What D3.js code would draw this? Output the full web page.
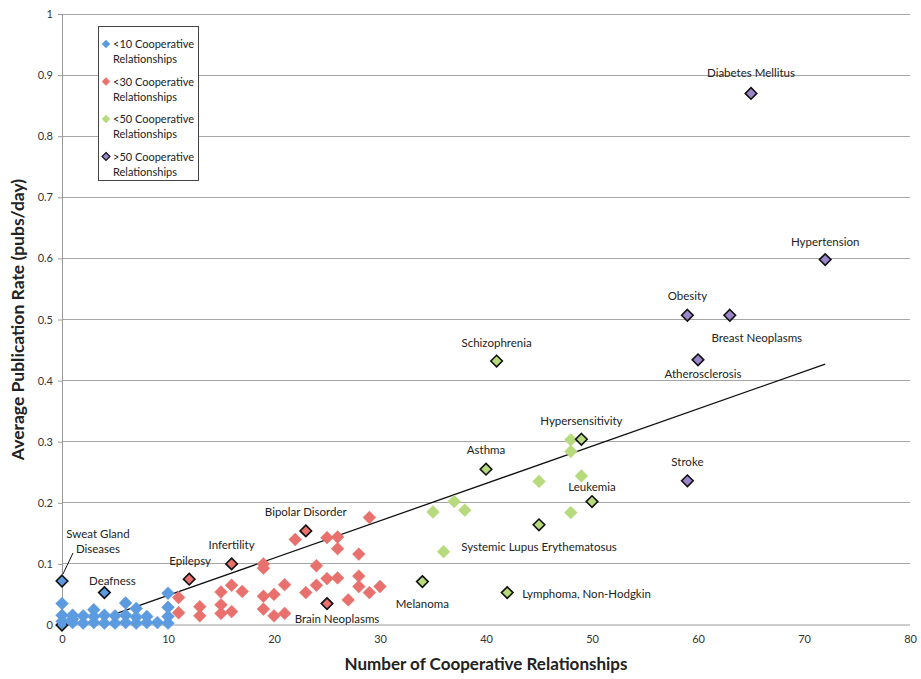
<!DOCTYPE html>
<html>
<head>
<meta charset="utf-8">
<script src="https://cdn.jsdelivr.net/npm/d3@7"></script>
<style>
  html, body { margin: 0; padding: 0; background: #fff; }
  svg { display: block; font-family: Lato, "Open Sans", sans-serif; }
</style>
</head>
<body>
<svg id="chart" width="921" height="679"></svg>
<script>
// ---------------- DATA ----------------
const xTicks = [0, 10, 20, 30, 40, 50, 60, 70, 80];
const yTicks = [0, 0.1, 0.2, 0.3, 0.4, 0.5, 0.6, 0.7, 0.8, 0.9, 1];
const yTickLabels = ["0", "0.1", "0.2", "0.3", "0.4", "0.5", "0.6", "0.7", "0.8", "0.9", "1"];

const seriesNames = ["<10 Cooperative Relationships", "<30 Cooperative Relationships",
                     "<50 Cooperative Relationships", ">50 Cooperative Relationships"];

// <10 series (null label = plain marker, "" = outlined without label)
const blueX = [0, 0, 0, 0, 0, 1, 1, 1, 2, 2, 3, 3, 3, 4, 4, 4, 5, 5, 6, 6, 6, 7, 7, 7, 8, 8, 9, 10, 10, 10, 10];
const blueY = [0.072, 0.035, 0.016, 0.006, 0.0, 0.016, 0.004, 0.010, 0.015, 0.003, 0.025, 0.014, 0.004,
               0.053, 0.016, 0.003, 0.015, 0.003, 0.036, 0.016, 0.004, 0.027, 0.013, 0.003, 0.014, 0.004,
               0.004, 0.052, 0.029, 0.014, 0.003];
const blueLabel = ["Sweat Gland|Diseases", null, null, null, "", null, null, null, null, null, null, null, null,
                   "Deafness", null, null, null, null, null, null, null, null, null, null, null, null,
                   null, null, null, null, null];

// <30 series
const redX = [12, 16, 23, 25, 11, 11, 13, 13, 15, 15, 15, 16, 16, 17, 19, 19, 19, 19, 20, 20, 21, 21,
              22, 23, 24, 24, 25, 25, 26, 26, 26, 27, 28, 28, 28, 29, 29, 30];
const redY = [0.075, 0.100, 0.154, 0.035, 0.045, 0.020, 0.030, 0.015, 0.054, 0.033, 0.019, 0.065, 0.022,
              0.055, 0.100, 0.093, 0.047, 0.026, 0.050, 0.015, 0.066, 0.019, 0.140, 0.053, 0.097, 0.065,
              0.143, 0.076, 0.144, 0.125, 0.077, 0.041, 0.116, 0.080, 0.063, 0.176, 0.053, 0.063];
const redLabel = ["Epilepsy", "Infertility", "Bipolar Disorder", "Brain Neoplasms"];

// <50 series
const greenX = [41, 40, 49, 50, 45, 34, 42, 48, 48, 45, 49, 37, 35, 38, 48, 36];
const greenY = [0.432, 0.255, 0.304, 0.202, 0.164, 0.071, 0.053, 0.303, 0.284, 0.235, 0.244, 0.202,
                0.185, 0.188, 0.184, 0.120];
const greenLabel = ["Schizophrenia", "Asthma", "Hypersensitivity", "Leukemia", "Systemic Lupus Erythematosus",
                    "Melanoma", "Lymphoma, Non-Hodgkin"];

// >50 series
const purpleX = [65, 72, 59, 63, 60, 59];
const purpleY = [0.870, 0.598, 0.507, 0.507, 0.434, 0.236];
const purpleLabel = ["Diabetes Mellitus", "Hypertension", "Obesity", "Breast Neoplasms", "Atherosclerosis", "Stroke"];

// linear trend line (end points)
const trendX = [4.7, 72];
const trendY = [0.016, 0.427];

// ---------------- LAYOUT / STYLE ----------------
const colors = ["#5c9be0", "#e8716d", "#b6da7c", "#9a86c8"];
const labelOffsets = {
  "Sweat Gland|Diseases": [36, -47, "middle"],
  "Deafness": [8, -12, "middle"],
  "Epilepsy": [1, -18, "middle"],
  "Infertility": [0, -19, "middle"],
  "Bipolar Disorder": [0, -19, "middle"],
  "Brain Neoplasms": [10, 15, "middle"],
  "Melanoma": [0, 22, "middle"],
  "Lymphoma, Non-Hodgkin": [15, 1, "start"],
  "Systemic Lupus Erythematosus": [0, 22, "middle"],
  "Asthma": [0, -19, "middle"],
  "Hypersensitivity": [0, -18, "middle"],
  "Leukemia": [0, -15, "middle"],
  "Schizophrenia": [0, -18, "middle"],
  "Stroke": [0, -19, "middle"],
  "Atherosclerosis": [5, 14, "middle"],
  "Breast Neoplasms": [27, 23, "middle"],
  "Obesity": [0, -19, "middle"],
  "Hypertension": [0, -18, "middle"],
  "Diabetes Mellitus": [0, -20, "middle"]
};

const svg = d3.select("#chart");
const x = d3.scaleLinear().domain([0, 80]).range([62, 910]);
const y = d3.scaleLinear().domain([0, 1]).range([625, 14]);

// gridlines
svg.append("g").selectAll("line").data(yTicks.filter(d => d > 0)).join("line")
  .attr("x1", x(0)).attr("x2", x(80))
  .attr("y1", d => y(d)).attr("y2", d => y(d))
  .attr("stroke", "#a6a6a6").attr("stroke-width", 1).attr("shape-rendering", "crispEdges");

// axes
const yAxis = d3.axisLeft(y).tickValues(yTicks).tickFormat((d, i) => yTickLabels[i]).tickSize(4).tickPadding(5);
const gy = svg.append("g").attr("transform", `translate(${x(0)},0)`).call(yAxis);
const xAxis = d3.axisBottom(x).tickValues(xTicks).tickSize(0).tickPadding(10);
const gx = svg.append("g").attr("transform", `translate(0,${y(0)})`).call(xAxis);
[gx, gy].forEach(g => {
  g.select(".domain").attr("stroke", "#9a9a9a").attr("stroke-width", 1);
  g.selectAll(".tick line").attr("stroke", "#9a9a9a");
  g.selectAll("text").attr("font-family", "Lato, sans-serif").attr("font-size", 11).attr("fill", "#333");
});
gx.select(".domain").attr("d", `M${x(0)},0H${x(80)}`);

// axis titles
svg.append("text").attr("x", x(40)).attr("y", 670).attr("text-anchor", "middle")
  .attr("font-size", 17).attr("font-weight", "bold").attr("fill", "#222")
  .text("Number of Cooperative Relationships");
svg.append("text").attr("transform", `translate(24,${y(0.5)}) rotate(-90)`).attr("text-anchor", "middle")
  .attr("font-size", 17.5).attr("font-weight", "bold").attr("fill", "#222")
  .text("Average Publication Rate (pubs/day)");

// trend line
svg.append("line")
  .attr("x1", x(trendX[0])).attr("y1", y(trendY[0]))
  .attr("x2", x(trendX[1])).attr("y2", y(trendY[1]))
  .attr("stroke", "#111").attr("stroke-width", 1.3);

const plainDiamond = d3.symbol().type(d3.symbolDiamond2).size(105);
const outlinedDiamond = d3.symbol().type(d3.symbolDiamond2).size(85);

function buildSeries(xs, ys, labels) {
  return xs.map((v, i) => ({ x: v, y: ys[i], label: labels[i] === undefined ? null : labels[i] }));
}
const allSeries = [
  buildSeries(blueX, blueY, blueLabel),
  buildSeries(redX, redY, redLabel),
  buildSeries(greenX, greenY, greenLabel),
  buildSeries(purpleX, purpleY, purpleLabel)
];

// markers: hidden outlined first, then plain, then labelled outlined on top
allSeries.forEach((pts, si) => {
  const g = svg.append("g");
  const ordered = pts.filter(p => p.label === "")
    .concat(pts.filter(p => p.label === null))
    .concat(pts.filter(p => p.label));
  g.selectAll("path").data(ordered).join("path")
    .attr("d", p => p.label !== null ? outlinedDiamond() : plainDiamond())
    .attr("transform", p => `translate(${x(p.x)},${y(p.y)})`)
    .attr("fill", colors[si])
    .attr("stroke", p => p.label !== null ? "#111" : colors[si])
    .attr("stroke-opacity", p => p.label !== null ? 1 : 0.6)
    .attr("stroke-width", p => p.label !== null ? 1.6 : 0.8);
});

// labels
const labelG = svg.append("g").attr("font-size", 11.5).attr("fill", "#222");
allSeries.forEach(pts => {
  pts.filter(p => p.label).forEach(p => {
    const off = labelOffsets[p.label];
    const lines = p.label.split("|");
    const t = labelG.append("text")
      .attr("x", x(p.x) + off[0]).attr("y", y(p.y) + off[1] + 4)
      .attr("text-anchor", off[2]);
    lines.forEach((ln, i) => {
      t.append("tspan").attr("x", x(p.x) + off[0]).attr("dy", i === 0 ? 0 : 15).text(ln);
    });
    if (lines.length > 1) {
      svg.append("line")
        .attr("x1", x(p.x) + 1).attr("y1", y(p.y) - 7)
        .attr("x2", x(p.x) + 11).attr("y2", y(p.y) - 28)
        .attr("stroke", "#111").attr("stroke-width", 1);
    }
  });
});

// legend
const lg = svg.append("g");
lg.append("rect").attr("x", 98.5).attr("y", 26.5).attr("width", 100).attr("height", 154)
  .attr("fill", "#fff").attr("stroke", "#444").attr("stroke-width", 1);
seriesNames.forEach((name, i) => {
  const yy = 44 + i * 37.5;
  lg.append("path").attr("d", d3.symbol().type(d3.symbolDiamond2).size(40))
    .attr("transform", `translate(106,${yy})`)
    .attr("fill", colors[i])
    .attr("stroke", i === 3 ? "#111" : colors[i]).attr("stroke-width", i === 3 ? 1.2 : 0.5);
  const words = name.split(" ");
  const t = lg.append("text").attr("font-size", 11).attr("fill", "#222").attr("y", yy + 4);
  t.append("tspan").attr("x", 113).text(words[0] + " " + words[1]);
  t.append("tspan").attr("x", 113).attr("dy", 15).text(words[2]);
});
</script>
</body>
</html>
